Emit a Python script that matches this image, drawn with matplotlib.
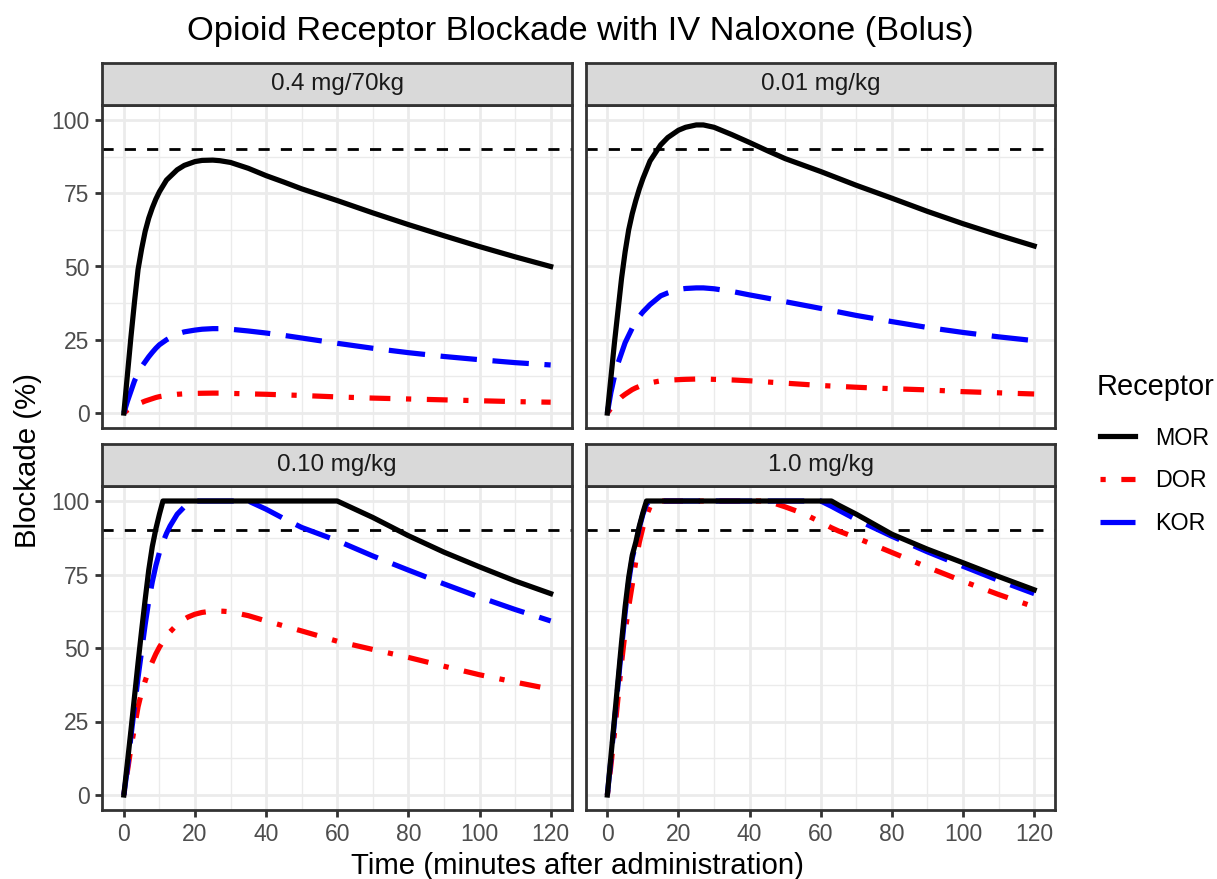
import matplotlib
matplotlib.use("Agg")
import matplotlib.pyplot as plt

plt.rcParams['font.family'] = ['Liberation Sans', 'DejaVu Sans']

# panel titles and receptors
doses = ["0.4 mg/70kg", "0.01 mg/kg", "0.10 mg/kg", "1.0 mg/kg"]
receptors = ["MOR", "DOR", "KOR"]
colors = {"MOR": "black", "DOR": "#FF0000", "KOR": "#0000FF"}
styles = {"MOR": "-", "DOR": (0, (1, 3, 4, 3)), "KOR": (0, (7, 3))}
threshold = 90

# values (minutes, % blockade)
t_a = [0, 1, 2, 3, 4, 5, 6, 7, 8, 9, 10, 12, 15, 17, 20, 22, 25, 27, 30, 35, 40, 45, 50, 60, 70, 80, 90, 100, 110, 120]
mor_a = [0, 13, 26, 38, 49, 56, 62, 66.5, 70, 73, 75.5, 79.5, 83, 84.5, 85.8, 86.2, 86.3, 86.1, 85.5, 83.5, 81, 78.8, 76.5, 72.5, 68.3, 64.3, 60.5, 56.8, 53.3, 50]
dor_a = [0, 1, 1.9, 2.6, 3.1, 3.6, 4.1, 4.5, 4.9, 5.3, 5.6, 6, 6.4, 6.55, 6.7, 6.75, 6.8, 6.8, 6.7, 6.55, 6.4, 6.2, 6, 5.5, 5.1, 4.8, 4.5, 4.2, 3.9, 3.7]
kor_a = [0, 4, 7.5, 11, 13.5, 15.8, 17.5, 19.2, 20.7, 22.1, 23.3, 25, 27, 27.7, 28.3, 28.6, 28.8, 28.8, 28.6, 28, 27.3, 26.5, 25.6, 23.8, 22.1, 20.6, 19.3, 18.2, 17.2, 16.4]

t_b = t_a
mor_b = [0, 12, 24, 35, 46, 55, 62.5, 68, 72.5, 76.5, 80, 86, 91.5, 94, 96.5, 97.5, 98.3, 98.3, 97.5, 95, 92.3, 89.5, 86.8, 82.4, 77.7, 73.3, 68.8, 64.6, 60.7, 57]
dor_b = [0, 1.6, 3, 4.3, 5.5, 6.4, 7.2, 8, 8.6, 9.1, 9.6, 10.3, 11, 11.2, 11.4, 11.5, 11.6, 11.6, 11.5, 11.3, 11, 10.6, 10.2, 9.4, 8.8, 8.3, 7.9, 7.3, 6.9, 6.5]
kor_b = [0, 7, 12.5, 17, 20.5, 24, 26.5, 29, 31, 33, 34.5, 37, 40, 41, 42.2, 42.5, 42.7, 42.7, 42.4, 41.5, 40.3, 39.2, 38, 35.7, 33.3, 31.2, 29.2, 27.5, 26, 24.7]

t_c = [0, 1, 2, 3, 4, 5, 6, 7, 8, 9, 10, 11, 12, 13, 15, 17, 18, 20, 22, 25, 28, 30, 35, 40, 45, 50, 60, 70, 80, 90, 100, 110, 120]
mor_c = [0, 11, 22, 33.5, 45, 56, 66.5, 76.5, 84.5, 90.5, 95.5, 100, 100, 100, 100, 100, 100, 100, 100, 100, 100, 100, 100, 100, 100, 100, 100, 94.4, 88.2, 82.6, 77.6, 72.8, 68.5]
dor_c = [0, 8, 16, 23, 30, 35, 38.8, 42.3, 45.3, 48, 50.3, 52.2, 54, 55.5, 58, 59.8, 60.5, 61.5, 62.1, 62.6, 62.5, 62.3, 61, 59.2, 57.5, 55.8, 52.3, 49.5, 46.8, 43.8, 40.9, 38.4, 36]
kor_c = [0, 9, 20, 30, 40, 49, 58, 66, 72.5, 78, 82.5, 86, 89, 91.5, 95.5, 98, 99, 100, 100, 100, 100, 100, 100, 97.2, 94, 91, 86.5, 81.3, 76.5, 71.8, 67.3, 63.1, 59.2]

t_d = [0, 1, 2, 3, 4, 5, 6, 7, 8, 9, 10, 11, 12, 13, 20, 30, 40, 45, 50, 55, 60, 63, 65, 70, 80, 90, 100, 110, 120]
mor_d = [0, 13, 26, 39, 52, 64, 74, 81.5, 86, 91.5, 96, 100, 100, 100, 100, 100, 100, 100, 100, 100, 100, 100, 98.6, 95.5, 88.7, 83.6, 79, 74.3, 69.8]
dor_d = [0, 10, 21, 33, 45, 55.5, 64, 71.5, 79.5, 86, 91, 95, 98, 100, 100, 100, 100, 100, 98, 95.8, 92.8, 90.9, 89.8, 87.5, 82.5, 77.5, 72.7, 68.2, 64]
kor_d = [0, 12, 25, 37.5, 50, 62, 72.5, 80.5, 85.5, 91, 95.5, 99, 100, 100, 100, 100, 100, 100, 100, 100, 100, 98.2, 96.9, 93.7, 88, 82.7, 77.8, 73, 68.5]

panels = [
    (t_a, {"MOR": mor_a, "DOR": dor_a, "KOR": kor_a}),
    (t_b, {"MOR": mor_b, "DOR": dor_b, "KOR": kor_b}),
    (t_c, {"MOR": mor_c, "DOR": dor_c, "KOR": kor_c}),
    (t_d, {"MOR": mor_d, "DOR": dor_d, "KOR": kor_d}),
]

W, H = 1218, 879
fig = plt.figure(figsize=(W / 150, H / 150), dpi=150)

# sizes scaled up from ggplot defaults to match the reference render
k = 1.25
line_w = 2.5


def box(x0, y0, x1, y1):
    return [x0 / W, 1 - y1 / H, (x1 - x0) / W, (y1 - y0) / H]


cols = [(102.5, 572), (586, 1055.5)]
rows = [(63, 105.3, 427.7), (444, 486.3, 809.7)]
border = "#333333"

for i, (dose, (t, series)) in enumerate(zip(doses, panels)):
    r, c = divmod(i, 2)
    x0, x1 = cols[c]
    s0, p0, p1 = rows[r]

    ax = fig.add_axes(box(x0, p0, x1, p1))
    ax.set_xlim(-6, 126)
    ax.set_ylim(-5, 105)
    ax.set_xticks([0, 20, 40, 60, 80, 100, 120])
    ax.set_xticks([10, 30, 50, 70, 90, 110], minor=True)
    ax.set_yticks([0, 25, 50, 75, 100])
    ax.set_yticks([12.5, 37.5, 62.5, 87.5], minor=True)
    ax.grid(which="major", color="#EBEBEB", lw=1.07 * k)
    ax.grid(which="minor", color="#EBEBEB", lw=0.53 * k)
    ax.set_axisbelow(True)
    for sp in ax.spines.values():
        sp.set_color(border)
        sp.set_linewidth(1.07 * k)
    ax.tick_params(which="minor", length=0)
    ax.tick_params(which="major", length=2.75 * k, width=1.07 * k, color=border,
                   labelsize=8.8 * k, labelcolor="#4D4D4D", pad=2.2 * k)
    if r == 0:
        ax.tick_params(axis="x", which="major", length=0, labelbottom=False)
    if c == 1:
        ax.tick_params(axis="y", which="major", length=0, labelleft=False)

    ax.axhline(threshold, color="black", lw=1.07 * k, ls=(0, (4, 4)), zorder=2)
    for rec in ["DOR", "KOR", "MOR"]:
        ax.plot(t, series[rec], color=colors[rec], ls=styles[rec], lw=line_w,
                label=rec, zorder=3)

    st = fig.add_axes(box(x0, s0, x1, p0))
    st.set_facecolor("#D9D9D9")
    st.set_xticks([])
    st.set_yticks([])
    for sp in st.spines.values():
        sp.set_color(border)
        sp.set_linewidth(1.07 * k)
    st.text(0.5, 0.5, dose, ha="center", va="center", fontsize=11.6,
            color="#1A1A1A", transform=st.transAxes)

fig.text(580 / W, 1 - 40 / H, "Opioid Receptor Blockade with IV Naloxone (Bolus)",
         ha="center", va="baseline", fontsize=13.2 * k)
fig.text(578 / W, 1 - 874 / H, "Time (minutes after administration)",
         ha="center", va="baseline", fontsize=14.1)
fig.text(28 / W, 1 - 460 / H, "Blockade (%)", ha="center", va="center",
         rotation=90, fontsize=14.1)

# legend: title placed separately so its gap to the keys matches
fig.text(1097 / W, 1 - 387 / H, "Receptor", ha="left", va="center", fontsize=13.9)
handles = [plt.Line2D([], [], color=colors[r], ls=styles[r], lw=line_w) for r in receptors]
leg = fig.legend(handles, receptors, loc="center left",
                 bbox_to_anchor=(1100.5 / W, 1 - 481 / H), frameon=False,
                 fontsize=11.2, handlelength=1.46, handletextpad=0.86,
                 labelspacing=0.85, borderpad=0, borderaxespad=0)

fig.savefig("out.png", dpi=150)
